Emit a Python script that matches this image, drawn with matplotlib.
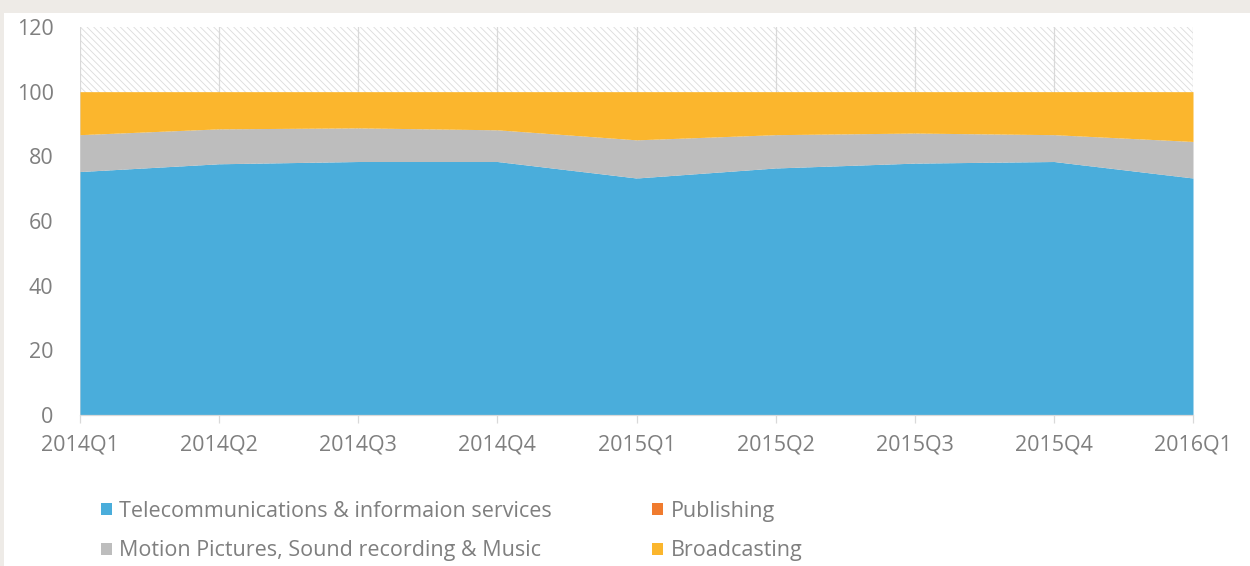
import matplotlib
matplotlib.use("Agg")
import matplotlib.pyplot as plt
from matplotlib.patches import Rectangle
import numpy as np

plt.rcParams['font.family'] = ['Open Sans', 'DejaVu Sans']
plt.rcParams['hatch.linewidth'] = 0.6

quarters = ["2014Q1", "2014Q2", "2014Q3", "2014Q4", "2015Q1",
            "2015Q2", "2015Q3", "2015Q4", "2016Q1"]
telecom = [75.3, 77.7, 78.4, 78.4, 73.3, 76.4, 77.9, 78.4, 73.3]
motion = [11.4, 10.8, 10.4, 9.8, 11.8, 10.3, 9.3, 8.3, 11.3]
publishing = [0, 0, 0, 0, 0, 0, 0, 0, 0]
broadcasting = [13.3, 11.5, 11.2, 11.8, 14.9, 13.3, 12.8, 13.3, 15.4]

labels = ["Telecommunications & informaion services", "Motion Pictures, Sound recording & Music",
          "Publishing", "Broadcasting"]
colors = ["#4aaddb", "#bdbdbd", "#f07b2e", "#fbb62d"]

fig = plt.figure(figsize=(12.5, 5.66), dpi=100)
fig.patch.set_facecolor("white")
fig.patches.append(Rectangle((0, 1 - 13 / 566), 1, 13 / 566, transform=fig.transFigure,
                             facecolor="#eeebe7", edgecolor="none", zorder=0))
fig.patches.append(Rectangle((0, 0), 4 / 1250, 1, transform=fig.transFigure,
                             facecolor="#eeebe7", edgecolor="none", zorder=0))

ax = fig.add_axes([80 / 1250, 1 - 415 / 566, (1193 - 80) / 1250, (415 - 27) / 566])
x = np.arange(len(quarters))

# hatched background
ax.fill_between(x, 0, 120, facecolor="white", hatch="\\\\\\\\\\", edgecolor="#dcdcdc",
                linewidth=0, zorder=0.2)

for xi in x:
    ax.axvline(xi, color="#d9d9d9", linewidth=0.9, zorder=0.5)

t = np.array(telecom)
m = np.array(motion)
p = np.array(publishing)
b = np.array(broadcasting)
ax.fill_between(x, 0, t, color=colors[0], linewidth=0, zorder=2)
ax.fill_between(x, t, t + m, color=colors[1], linewidth=0, zorder=2)
ax.fill_between(x, t + m, t + m + p, color=colors[2], linewidth=0, zorder=2)
ax.fill_between(x, t + m + p, t + m + p + b, color=colors[3], linewidth=0, zorder=2)

ax.set_xlim(0, len(quarters) - 1)
ax.set_ylim(0, 120)
ax.set_yticks(range(0, 121, 20))
ax.set_xticks(x)
ax.set_xticklabels(quarters)
for s in ["top", "right", "left"]:
    ax.spines[s].set_visible(False)
ax.spines["bottom"].set_color("#d9d9d9")
ax.spines["bottom"].set_linewidth(0.9)
ax.tick_params(axis="y", length=0, pad=19, labelsize=15.5, labelcolor="#7f7f7f")
ax.tick_params(axis="x", length=6, color="#d9d9d9", width=0.9, pad=8,
               labelsize=15.5, labelcolor="#7f7f7f")

handles = [Rectangle((0, 0), 1, 1, facecolor=c, edgecolor="none") for c in colors]
leg = fig.legend(handles, labels,
                 loc="upper left", bbox_to_anchor=(101 / 1250, 1 - 501 / 566),
                 ncol=2, frameon=False, fontsize=15.5, handlelength=0.5, handleheight=0.5,
                 handletextpad=0.35, columnspacing=4.65, labelspacing=0.85,
                 borderpad=0, borderaxespad=0)
for txt in leg.get_texts():
    txt.set_color("#7f7f7f")

fig.savefig("out.png", dpi=100, facecolor=fig.get_facecolor())
